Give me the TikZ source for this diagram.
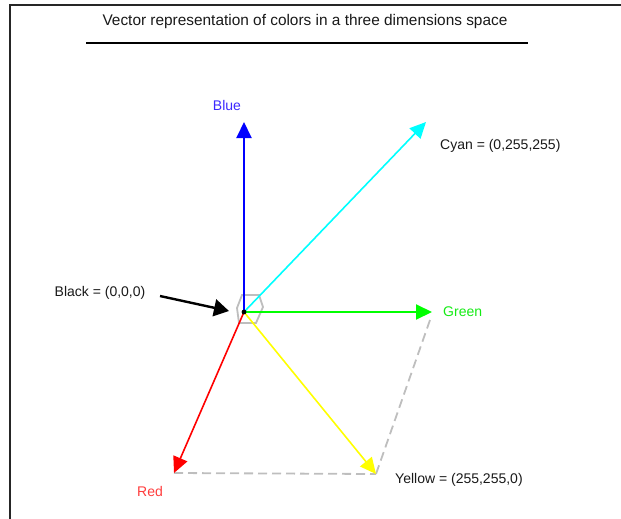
\documentclass[tikz,border=0pt]{standalone}
\usepackage{fontspec}
\setmainfont{Liberation Sans}
\usepackage{tikz}
\usetikzlibrary{arrows.meta, positioning, calc}
\definecolor{rgbred}{RGB}{255,0,0}
\definecolor{rgbgreen}{RGB}{0,255,0}
\definecolor{rgbblue}{RGB}{0,0,255}
\definecolor{rgbcyan}{RGB}{0,255,255}
\definecolor{rgbyellow}{RGB}{255,255,0}
\definecolor{txtred}{RGB}{255,60,60}
\definecolor{txtblue}{RGB}{60,40,255}
\definecolor{txtgreen}{RGB}{20,235,20}
\definecolor{guide}{RGB}{190,190,190}
\tikzset{
  lbl/.style ={font=\fontsize{14}{16}\selectfont, inner sep=0pt, text=black!90},
  vec/.style ={line width=2pt, -{Triangle[length=16pt, width=15pt]}},
  ptr/.style ={line width=2.4pt, black, -{Triangle[length=15pt, width=17pt]}},
  proj/.style={guide, line width=1.8pt, dash pattern=on 9pt off 5pt},
}

\begin{document}
\begin{tikzpicture}[x=1pt, y=-1pt]
  \useasboundingbox (0,0) rectangle (621,519);
  % frame, top and left only
  \draw[line width=2.2pt, black!85] (621,5) -- (10,5) -- (10,519);
  % title
  \node[lbl, font=\fontsize{15.4}{18}\selectfont] (title) at (305,22) {Vector representation of colors in a three dimensions space};
  \draw[line width=1.8pt] (86,43) -- (528,43);

  % origin and vector ends
  \coordinate (O) at (244,312);
  \coordinate (blueEnd) at (244,122);
  \coordinate (cyanEnd) at (426,122);
  \coordinate (greenEnd) at (432,312);
  \coordinate (redEnd) at (174,473);
  \coordinate (yellowEnd) at (376,474);

  % cube outline round the origin
  \draw[guide, line width=1.8pt] (242,295) -- (259,295) -- (263,307) -- (256,323) -- (239,323) -- (237,308) -- cycle;

  % projections of yellow
  \draw[proj] (redEnd) -- (yellowEnd);
  \draw[proj] (430,320) -- (yellowEnd);

  \draw[vec, rgbcyan, line width=1.6pt] (O) -- (cyanEnd);
  \draw[vec, rgbyellow, line width=1.6pt] (O) -- (yellowEnd);
  \draw[vec, rgbred, line width=1.6pt] (O) -- (redEnd);
  \draw[vec, rgbgreen] (O) -- (greenEnd);
  \draw[vec, rgbblue] (O) -- (blueEnd);
  \fill (O) circle (2.4pt);

  % labels
  \node[lbl, text=txtblue] (blue) at (227,105) {Blue};
  \node[lbl, anchor=west] (cyan) at (440,146) {Cyan = (0,255,255)};
  \node[lbl, anchor=west, text=txtgreen] (green) at (443,312) {Green};
  \node[lbl, text=txtred] (red) at (150,491) {Red};
  \node[lbl, anchor=west] (yellow) at (395,480) {Yellow = (255,255,0)};
  \node[lbl] (black) at (100,293) {Black = (0,0,0)};
  \coordinate (blackTail) at (160,296);
  \draw[ptr] (blackTail) -- (229,311);
\end{tikzpicture}
\end{document}
